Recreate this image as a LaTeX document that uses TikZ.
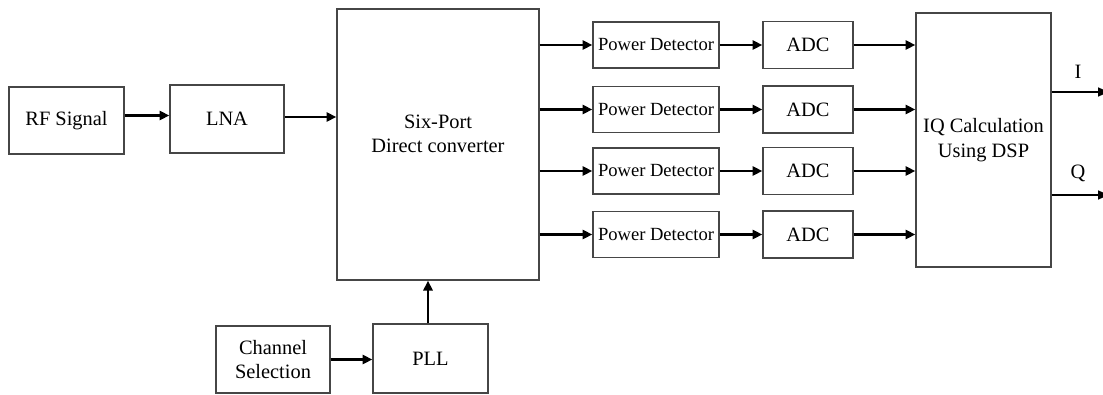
\documentclass[tikz,border=0pt]{standalone}
\usepackage{fontspec}
\setmainfont{Liberation Serif}
\usepackage{tikz}
\usetikzlibrary{arrows.meta,positioning}
\definecolor{BoxGray}{RGB}{70, 70, 70}

\begin{document}
\begin{tikzpicture}[x=0.025cm, y=-0.025cm,
    block/.style={draw=BoxGray, line width=0.9pt, inner sep=0pt, align=center,
        font=\fontsize{14.5}{17.5}\selectfont},
    sig/.style={-{Triangle[length=7pt, width=6.5pt]}, line width=1.7pt},
    outsig/.style={-{Triangle[length=7pt, width=6.5pt]}, line width=0.9pt}]
    \useasboundingbox (0,0) rectangle (1103,394);
    % front end
    \node[block, minimum width=2.875cm, minimum height=1.675cm] (rf) at (66.5,120.5) {RF Signal};
    \node[block, minimum width=2.85cm, minimum height=1.7cm] (lna) at (227,119) {LNA};
    \node[block, minimum width=5.05cm, minimum height=6.775cm] (six) at (438,144.5) {};
    \node[font=\fontsize{14.5}{17.5}\selectfont, align=center] (sixtext) at (438,134) {Six-Port\\Direct converter};
    % local oscillator path
    \node[block, minimum width=2.85cm, minimum height=1.675cm] (ch) at (273,359.5) {Channel\\Selection};
    \node[block, minimum width=2.875cm, minimum height=1.725cm] (pll) at (430.5,358.5) {PLL};
    % back end
    \node[block, minimum width=3.375cm, minimum height=6.35cm] (iq) at (983.5,140) {IQ Calculation\\Using DSP};
    \foreach \n/\y in {1/45, 2/109.5, 3/171, 4/234.5} {
        \node[block, minimum width=3.15cm, minimum height=1.15cm, font=\fontsize{13.2}{16}\selectfont] (pd\n) at (656,\y) {Power Detector};
        \node[block, minimum width=2.25cm, minimum height=1.175cm] (adc\n) at (808,\y) {ADC};
        \draw[sig] (six.east |- pd\n) -- (pd\n.west);
        \draw[sig] (pd\n.east) -- (adc\n.west);
        \draw[sig] (adc\n.east) -- (adc\n -| iq.west);
    }
    \draw[sig] ([yshift=0.125cm]rf.east) -- ([yshift=0.125cm]rf.east -| lna.west);
    \draw[sig] ([yshift=0.05cm]lna.east) -- ([yshift=0.05cm]lna.east -| six.west);
    \draw[sig] (ch.east) -- (ch.east -| pll.west);
    \draw[sig] ([xshift=-0.0625cm]pll.north) -- ([xshift=-0.0625cm]pll.north |- six.south);
    % outputs
    \coordinate (iout) at (1108,92);
    \coordinate (qout) at (1108,195);
    \draw[outsig] (iq.east |- iout) -- (iout);
    \draw[outsig] (iq.east |- qout) -- (qout);
    \node[font=\fontsize{14.5}{17.5}\selectfont] (ilabel) at (1078,72) {I};
    \node[font=\fontsize{14.5}{17.5}\selectfont] (qlabel) at (1078,173) {Q};
\end{tikzpicture}
\end{document}
